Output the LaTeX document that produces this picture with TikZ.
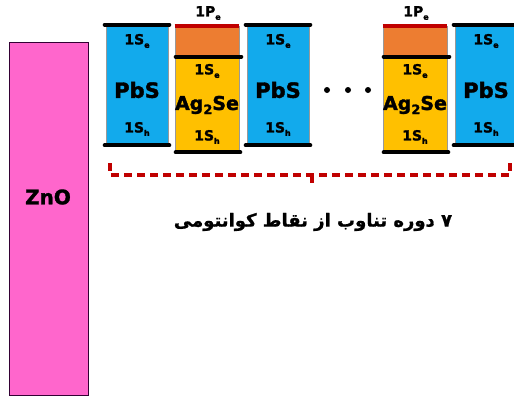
\documentclass[tikz,border=0pt]{standalone}
\usepackage{fontspec}
\setmainfont{DejaVu Sans}[BoldFont={DejaVu Sans Bold}, BoldFeatures={FakeBold=1.6}]
\newfontfamily\arabicfont[Script=Arabic, BoldFont={DejaVu Sans Bold}, BoldFeatures={FakeBold=1.0}]{DejaVu Sans}
\TeXXeTstate=1
\definecolor{pbsblue}{HTML}{12AAEC}
\definecolor{agyellow}{HTML}{FFC000}
\definecolor{agorange}{HTML}{ED7D31}
\definecolor{barred}{HTML}{C00000}
\definecolor{znopink}{HTML}{FF66CC}
\newcommand{\lvl}[2]{#1\raisebox{-0.45ex}{\fontsize{8}{8}\selectfont #2}}
\tikzset{
  pbsbox/.style={draw=gray!80, line width=0.6pt, fill=pbsblue, minimum width=62pt, minimum height=120pt, inner sep=0pt},
  agtop/.style={draw=gray!80, line width=0.6pt, fill=agorange, minimum width=64pt, minimum height=31pt, inner sep=0pt},
  agbot/.style={draw=gray!80, line width=0.6pt, fill=agyellow, minimum width=64pt, minimum height=95pt, inner sep=0pt},
  bar/.style={line width=4pt, line cap=round, black},
  redbar/.style={line width=4pt, barred},
  lbl/.style={font=\bfseries\fontsize{14}{14}\selectfont, inner sep=0pt},
  big/.style={font=\bfseries\fontsize{21}{21}\selectfont, inner sep=0pt},
  bracket/.style={barred, line width=3.5pt, dash pattern=on 8pt off 5pt},
  dot/.style={circle, fill=black, inner sep=0pt, minimum size=6pt},
}
\begin{document}
\begin{tikzpicture}[x=1pt, y=-1pt]
\useasboundingbox[fill=white] (0,0) rectangle (514,399);
% ZnO
\node[draw=black!60!violet, line width=0.6pt, fill=znopink, minimum width=79pt, minimum height=353pt, inner sep=0pt] (zno) at (48.5,218.5) {};
\node[font=\bfseries\fontsize{20}{20}\selectfont, inner sep=0pt] (znol) at (48,197) {ZnO};
% PbS 1
\node[pbsbox] (p1) at (137,85) {};
\draw[bar] ([xshift=-1pt]p1.north west) -- ([xshift=1pt]p1.north east);
\draw[bar] ([xshift=-1pt]p1.south west) -- ([xshift=1pt]p1.south east);
\node[lbl] (p1e) at (137,41) {\lvl{1S}{e}};
\node[big] (p1n) at (137,90) {PbS};
\node[lbl] (p1h) at (137,129) {\lvl{1S}{h}};
% Ag2Se 1
\node[agtop] (a1t) at (207,41.5) {};
\node[agbot] (a1b) at (207,104.5) {};
\draw[redbar] (a1t.north west) -- (a1t.north east);
\draw[bar] ([xshift=1pt]a1b.north west) -- ([xshift=2pt]a1b.north east);
\draw[bar] ([xshift=1pt]a1b.south west) -- ([xshift=1pt]a1b.south east);
\node[lbl] (a1p) at (208,13) {\lvl{1P}{e}};
\node[lbl] (a1e) at (207,71) {\lvl{1S}{e}};
\node[big, font=\bfseries\fontsize{19}{19}\selectfont] (a1n) at (207,105) {Ag\raisebox{-0.4ex}{\fontsize{13}{13}\selectfont 2}Se};
\node[lbl] (a1h) at (207,137) {\lvl{1S}{h}};
% PbS 2
\node[pbsbox] (p2) at (278,85) {};
\draw[bar] ([xshift=-1pt]p2.north west) -- ([xshift=1pt]p2.north east);
\draw[bar] ([xshift=-1pt]p2.south west) -- ([xshift=1pt]p2.south east);
\node[lbl] (p2e) at (278,41) {\lvl{1S}{e}};
\node[big] (p2n) at (278,90) {PbS};
\node[lbl] (p2h) at (278,129) {\lvl{1S}{h}};
% dots
\node[dot] (d1) at (327,90) {};
\node[dot] (d2) at (348,90) {};
\node[dot] (d3) at (368,90) {};
% Ag2Se 2
\node[agtop] (a2t) at (415,41.5) {};
\node[agbot] (a2b) at (415,104.5) {};
\draw[redbar] (a2t.north west) -- (a2t.north east);
\draw[bar] ([xshift=1pt]a2b.north west) -- ([xshift=2pt]a2b.north east);
\draw[bar] ([xshift=1pt]a2b.south west) -- ([xshift=1pt]a2b.south east);
\node[lbl] (a2p) at (416,13) {\lvl{1P}{e}};
\node[lbl] (a2e) at (415,71) {\lvl{1S}{e}};
\node[big, font=\bfseries\fontsize{19}{19}\selectfont] (a2n) at (415,105) {Ag\raisebox{-0.4ex}{\fontsize{13}{13}\selectfont 2}Se};
\node[lbl] (a2h) at (415,137) {\lvl{1S}{h}};
% PbS 3
\node[pbsbox] (p3) at (486,85) {};
\draw[bar] ([xshift=-1pt]p3.north west) -- ([xshift=1pt]p3.north east);
\draw[bar] ([xshift=-1pt]p3.south west) -- ([xshift=1pt]p3.south east);
\node[lbl] (p3e) at (486,41) {\lvl{1S}{e}};
\node[big] (p3n) at (486,90) {PbS};
\node[lbl] (p3h) at (486,129) {\lvl{1S}{h}};
% bracket
\coordinate (bl) at (110,163);
\coordinate (blc) at (110,175);
\coordinate (bm) at (312,175);
\coordinate (bmd) at (312,187);
\coordinate (brc) at (510,175);
\coordinate (br) at (510,163);
\draw[bracket] (bl) -- (blc) -- (bm) -- (brc) -- (br);
\draw[bracket] (bm) -- (bmd);
% caption
\node[font=\arabicfont\bfseries\fontsize{18}{18}\selectfont, inner sep=0pt] (cap) at (313,222) {\beginR ۷ دوره تناوب از نقاط کوانتومی\endR};
\end{tikzpicture}
\end{document}
